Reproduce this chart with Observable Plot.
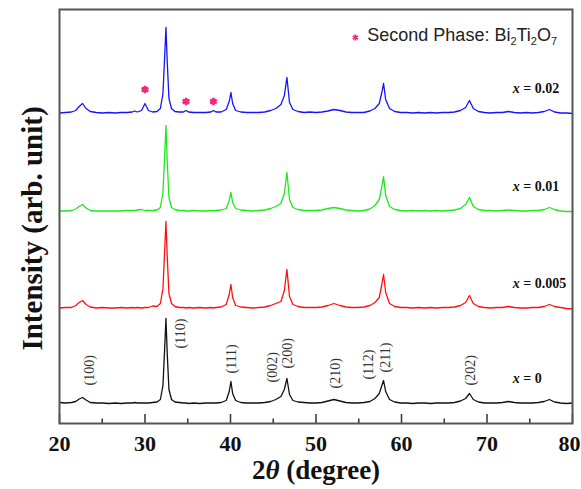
<!DOCTYPE html>
<html>
<head>
<meta charset="utf-8">
<script src="https://cdn.jsdelivr.net/npm/d3@7"></script>
<script src="https://cdn.jsdelivr.net/npm/@observablehq/plot@0.6"></script>
<style>
  body { margin: 0; background: #fff; }
  #chart svg { overflow: visible; }
</style>
</head>
<body>
<div id="chart"></div>
<script>
// Diffraction angle grid (2θ, degrees) shared by all four patterns
const twoTheta = [
  20.0, 20.7, 21.4, 21.9, 22.3, 22.7, 23.1, 23.6, 24.3, 25.0,
  25.8, 26.5, 27.2, 27.9, 28.5, 28.8, 29.1, 29.6, 30.0, 30.4,
  30.9, 31.4, 31.8, 32.1, 32.3, 32.45, 32.6, 32.8, 33.1, 33.5,
  34.0, 34.5, 34.8, 35.1, 35.7, 36.4, 37.1, 37.7, 38.0, 38.3,
  38.9, 39.5, 39.85, 40.05, 40.25, 40.6, 41.2, 41.9, 42.6, 43.3,
  44.0, 44.7, 45.3, 45.9, 46.3, 46.6, 46.9, 47.3, 47.9, 48.6,
  49.3, 50.0, 50.7, 51.4, 52.1, 52.8, 53.5, 54.2, 54.9, 55.6,
  56.3, 56.9, 57.4, 57.7, 57.9, 58.15, 58.6, 59.2, 59.9, 60.6,
  61.3, 62.0, 62.7, 63.4, 64.1, 64.8, 65.5, 66.2, 66.9, 67.5,
  67.95, 68.4, 69.0, 69.7, 70.4, 71.1, 71.8, 72.5, 73.2, 73.9,
  74.6, 75.3, 76.0, 76.7, 77.3, 77.9, 78.6, 79.3, 80.0
];

// Intensity above each pattern's own baseline (arb. unit)
const intensityX0 = [
  1, 0.5, 1, 2, 4.5, 6, 3.5, 1, 0.5, 0.5,
  0, 0.5, 0, 0.5, 0.5, 1, 0.5, 0.5, 0.5, 0.5,
  1, 1.5, 4, 18, 55, 85, 50, 14, 4, 1.5,
  1, 0.5, 0.5, 0, 0.5, 0, 0.5, 0.5, 0.5, 0.5,
  1, 3, 12, 22, 10, 3, 1, 0.5, 0.5, 0.5,
  1, 2, 4, 7, 14, 25, 9, 3, 1.5, 1,
  0.5, 0.5, 1, 2.5, 4, 2.5, 1, 0.5, 0.5, 1,
  2, 5, 10, 18, 23, 12, 4, 1.5, 0.5, 0.5,
  0, 0.5, 0.5, 0, 0.5, 0.5, 0.5, 1, 2.5, 5,
  10, 4, 1.5, 0.5, 0.5, 0.5, 1, 2, 1, 0.5,
  0.5, 0.5, 1, 2, 4, 1.5, 0.5, 0, 0.5
];
const intensityX005 = [
  0.5, 1, 1, 3, 6, 8, 4, 1.5, 0.5, 1,
  0.5, 0.5, 1, 0.5, 1, 0.5, 1, 0.5, 1, 1,
  2.5, 2, 5, 20, 58, 87, 52, 15, 5, 2,
  1, 1, 0.5, 1, 0.5, 1, 0.5, 1, 0.5, 1,
  1.5, 4, 14, 24, 11, 3, 1.5, 1, 0.5, 1,
  1.5, 3, 5, 7, 18, 39, 12, 4, 2, 1,
  1, 1, 1.5, 3, 5, 3, 1.5, 1, 1, 1.5,
  3, 6, 11, 24, 34, 16, 5, 2, 1, 1,
  0.5, 1, 0.5, 1, 0.5, 1, 1, 1.5, 3, 6,
  13, 5, 2, 1, 0.5, 1, 1, 2, 1, 0.5,
  0.5, 1, 1, 2, 4, 2, 1, 0, -0.5
];
const intensityX01 = [
  0.5, 0.5, 1, 2.5, 5, 7, 3.5, 1, 0.5, 0.5,
  0.5, 0.5, 0.5, 1, 1, 1, 1.5, 2, 1, 1,
  1, 1.5, 4, 19, 56, 86, 50, 14, 4, 2,
  1, 1, 0.5, 0.5, 1, 0.5, 0.5, 1, 0.5, 1,
  1.5, 3, 11, 19, 9, 3, 1.5, 1, 0.5, 1,
  1.5, 3, 5, 8, 18, 39, 12, 4, 2, 1,
  1, 1, 1.5, 3, 4, 3, 1.5, 1, 0.5, 1,
  2.5, 6, 12, 25, 35, 16, 5, 2, 1, 0.5,
  1, 0.5, 1, 0.5, 1, 0.5, 1, 1.5, 3, 7,
  14, 5, 2, 1, 1, 0.5, 1, 1.5, 1, 0.5,
  0.5, 1, 1, 2, 4, 2, 0.5, 0, 0
];
const intensityX02 = [
  0.5, 1, 1.5, 3, 7, 10, 5, 2, 1, 0.5,
  1, 0.5, 1, 1, 1.5, 2.5, 1.5, 3, 10, 3,
  1.5, 2, 5, 20, 57, 86, 52, 15, 5, 2,
  1.5, 1.5, 3, 1.5, 1, 1, 1, 1.5, 3, 1.5,
  1.5, 4, 12, 21, 10, 3, 1.5, 1, 1, 1,
  1.5, 3, 5, 9, 18, 36, 11, 4, 2, 1,
  1.5, 1, 1.5, 2.5, 4, 3, 1.5, 1, 1, 1,
  2.5, 5, 10, 21, 30, 14, 5, 2, 1, 1,
  0.5, 1, 0.5, 1, 0.5, 1, 1, 1.5, 3, 6,
  13, 5, 2, 1, 0.5, 1, 1, 2, 1, 0.5,
  1, 0.5, 1, 2, 4, 1.5, 0.5, 0.5, 0
];

// Samples, stacked bottom to top
const sampleLabels = ["0", "0.005", "0.01", "0.02"];
const sampleIntensities = [intensityX0, intensityX005, intensityX01, intensityX02];
const sampleOffsets = [20, 115, 212, 310];
const sampleColors = ["#111111", "#ff1010", "#1ee81e", "#1414ff"];

// Perovskite reflections indexed on the x = 0 pattern: label, 2θ, intensity
const planeLabels = ["(100)", "(110)", "(111)", "(002)", "(200)", "(210)", "(112)", "(211)", "(202)"];
const planeTheta  = [23.5, 34.15, 40.1, 44.9, 46.65, 52.3, 56.15, 58.1, 68.05];
const planeLevel  = [38, 75, 50, 41, 55, 35, 44, 51, 38];

// Bi2Ti2O7 impurity reflections in the x = 0.02 pattern
const secondPhaseTheta = [30.0, 34.8, 38.0];
const secondPhaseLevel = [334, 322, 322];

// Axis ticks
const majorTicks = [20, 30, 40, 50, 60, 70, 80];
const minorTicks = [25, 35, 45, 55, 65, 75];

const serif = "'Liberation Serif', 'Times New Roman', serif";
const sans = "'Liberation Sans', Arial, sans-serif";

const patternRows = sampleLabels.flatMap((s, i) =>
  twoTheta.map((t, j) => ({sample: s, theta: t, level: sampleOffsets[i] + sampleIntensities[i][j]}))
);
const sampleTags = sampleLabels.map((s, i) => ({text: `x = ${s}`, theta: 73.0, level: sampleOffsets[i] + 25}));
const planeRows = planeLabels.map((p, i) => ({text: p, theta: planeTheta[i], level: planeLevel[i]}));
const phaseRows = secondPhaseTheta.map((t, i) => ({theta: t, level: secondPhaseLevel[i]}));

const tickText = {frameAnchor: "bottom", lineAnchor: "middle", dy: 20, fontSize: 22, fontWeight: "bold", fill: "#111"};

const chart = Plot.plot({
  width: 581,
  height: 489,
  marginLeft: 59,
  marginRight: 9,
  marginTop: 9,
  marginBottom: 66,
  x: {domain: [20, 80], axis: null},
  y: {domain: [0, 414], axis: null},
  color: {domain: sampleLabels, range: sampleColors},
  style: {fontFamily: serif, background: "#fff", color: "#111"},
  marks: [
    // tick marks pointing into the plot
    Plot.ruleX(majorTicks, {x: d => d, y1: 0, y2: 9, stroke: "#333", strokeWidth: 1.5}),
    Plot.ruleX(minorTicks, {x: d => d, y1: 0, y2: 4.5, stroke: "#333", strokeWidth: 1.5}),
    Plot.line(patternRows, {x: "theta", y: "level", z: "sample", stroke: "sample", strokeWidth: 1.3, curve: "linear"}),
    Plot.text(planeRows, {x: "theta", y: "level", text: "text", rotate: -90, textAnchor: "start", lineAnchor: "middle", fontSize: 14, fill: "#333"}),
    Plot.dot(phaseRows, {x: "theta", y: "level", symbol: "asterisk", r: 3.6, stroke: "#ee2a7b", strokeWidth: 2.6}),
    Plot.text(sampleTags, {x: "theta", y: "level", text: "text", textAnchor: "start", fontSize: 14, fontWeight: "bold", fill: "#111"}),
    // legend for the impurity marker
    Plot.dot([{theta: 54.6, level: 386}], {x: "theta", y: "level", symbol: "asterisk", r: 2.8, stroke: "#ee2a7b", strokeWidth: 1.8}),
    Plot.text(["Second Phase: Bi2Ti2O7"], {x: () => 56.0, y: () => 388, textAnchor: "start", fontSize: 18, fontFamily: sans, fill: "#222"}),
    // tick labels (the last one nudged inside the page edge) and axis titles
    Plot.text(majorTicks.slice(0, -1), {x: d => d, ...tickText}),
    Plot.text(majorTicks.slice(-1), {x: d => d, ...tickText, dx: -3}),
    Plot.text(["2θ (degree)"], {frameAnchor: "bottom", textAnchor: "middle", lineAnchor: "middle", dy: 47, fontSize: 27, fontWeight: "bold", fill: "#111"}),
    Plot.text(["Intensity (arb. unit)"], {frameAnchor: "left", rotate: -90, textAnchor: "middle", lineAnchor: "middle", dx: -27, dy: 12, fontSize: 29, fontWeight: "bold", fill: "#111"}),
    Plot.frame({stroke: "#555", strokeWidth: 2})
  ]
});

// Rich text: italic symbols and chemical subscripts
d3.select(chart).selectAll("text").each(function () {
  const t = this.textContent;
  const sel = d3.select(this);
  if (t.startsWith("x = ")) {
    sel.text(null);
    sel.append("tspan").attr("font-style", "italic").text("x");
    sel.append("tspan").text(t.slice(1));
  } else if (t === "2θ (degree)") {
    sel.text(null);
    sel.append("tspan").text("2");
    sel.append("tspan").attr("font-style", "italic").text("θ");
    sel.append("tspan").text(" (degree)");
  } else if (t === "Second Phase: Bi2Ti2O7") {
    sel.text(null);
    const parts = [["Second Phase: Bi", false], ["2", true], ["Ti", false], ["2", true], ["O", false], ["7", true]];
    for (const [s, sub] of parts) {
      const ts = sel.append("tspan").text(s);
      if (sub) ts.attr("font-size", "11px").attr("dy", "4");
      else if (s !== "Second Phase: Bi") ts.attr("dy", "-4");
    }
  }
});

document.getElementById("chart").appendChild(chart);
</script>
</body>
</html>
